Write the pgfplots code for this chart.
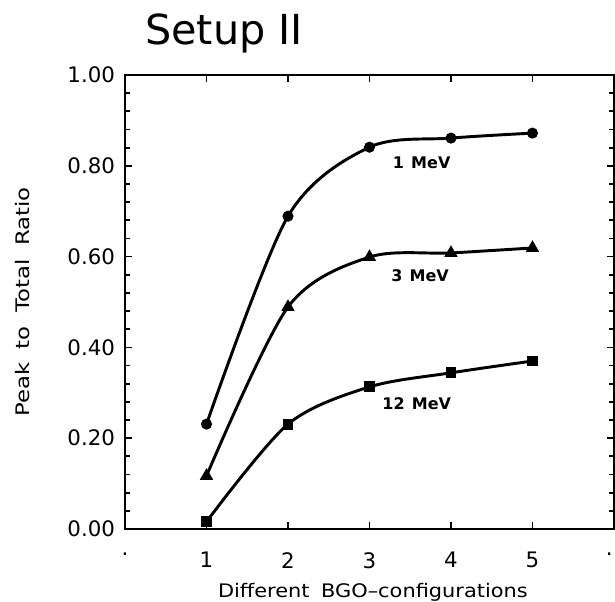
\documentclass[border=0pt]{standalone}
\usepackage{fontspec}
\setmainfont{DejaVu Sans}
\usepackage{pgfplots}
\pgfplotsset{compat=1.18}
\begin{document}
\begin{tikzpicture}[x=1pt,y=1pt]
\begin{axis}[
  at={(0,0)}, anchor=south west,
  scale only axis, width=366.75pt, height=340.5pt,
  xmin=0, xmax=6, ymin=0, ymax=1,
  xtick={0,1,2,3,4,5,6}, xticklabels={.,1,2,3,4,5,\llap{.\hspace{1pt}}},
  ytick={0,0.2,0.4,0.6,0.8,1.0}, minor y tick num=4,
  yticklabel style={/pgf/number format/fixed, /pgf/number format/fixed zerofill, /pgf/number format/precision=2, xshift=-4pt},
  /pgf/number format/assume math mode=true,
  tick align=inside,
  major tick length=5.5pt, minor tick length=3.5pt,
  axis line style={line width=1.8pt},
  every tick/.style={black, line width=1.3pt},
  tick label style={font=\fontsize{16}{18}\selectfont},
  xticklabel style={yshift=-14pt},
  xlabel={\scalebox{1.12}[1]{Different\hspace{0.55em}BGO–configurations}},
  xlabel style={font=\fontsize{14}{16}\selectfont, at={(axis description cs:0.507,-0.14)}, anchor=center},
  ylabel={\scalebox{1.22}[1]{Peak\hspace{0.6em}to\hspace{0.6em}Total\hspace{0.6em}Ratio}},
  ylabel style={font=\fontsize{14}{16}\selectfont, at={(axis description cs:-0.209,0.5)}, anchor=center},
  clip=false,
]
\addplot[black, line width=2.2pt, smooth, mark=*, mark size=3pt, mark options={solid}]
  coordinates {(1,0.231) (2,0.689) (3,0.841) (4,0.861) (5,0.872)};
\addplot[black, line width=2.2pt, smooth, mark=triangle*, mark size=3.6pt, mark options={solid}]
  coordinates {(1,0.117) (2,0.489) (3,0.599) (4,0.608) (5,0.619)};
\addplot[black, line width=2.2pt, smooth, mark=square*, mark size=3pt, mark options={solid}]
  coordinates {(1,0.016) (2,0.231) (3,0.313) (4,0.344) (5,0.370)};
\node[font=\bfseries\fontsize{12}{14}\selectfont] at (axis cs:3.64,0.806) {1\hspace{0.45em}MeV};
\node[font=\bfseries\fontsize{12}{14}\selectfont] at (axis cs:3.62,0.557) {3\hspace{0.45em}MeV};
\node[font=\bfseries\fontsize{12}{14}\selectfont] at (axis cs:3.58,0.275) {12\hspace{0.45em}MeV};
\end{axis}
\node[anchor=base west, inner sep=0pt, font=\fontsize{31}{34}\selectfont] at (15,363) {Setup II};
\pgfresetboundingbox
\path (-93.75,-54) rectangle (367.5,396.75);
\end{tikzpicture}
\end{document}
